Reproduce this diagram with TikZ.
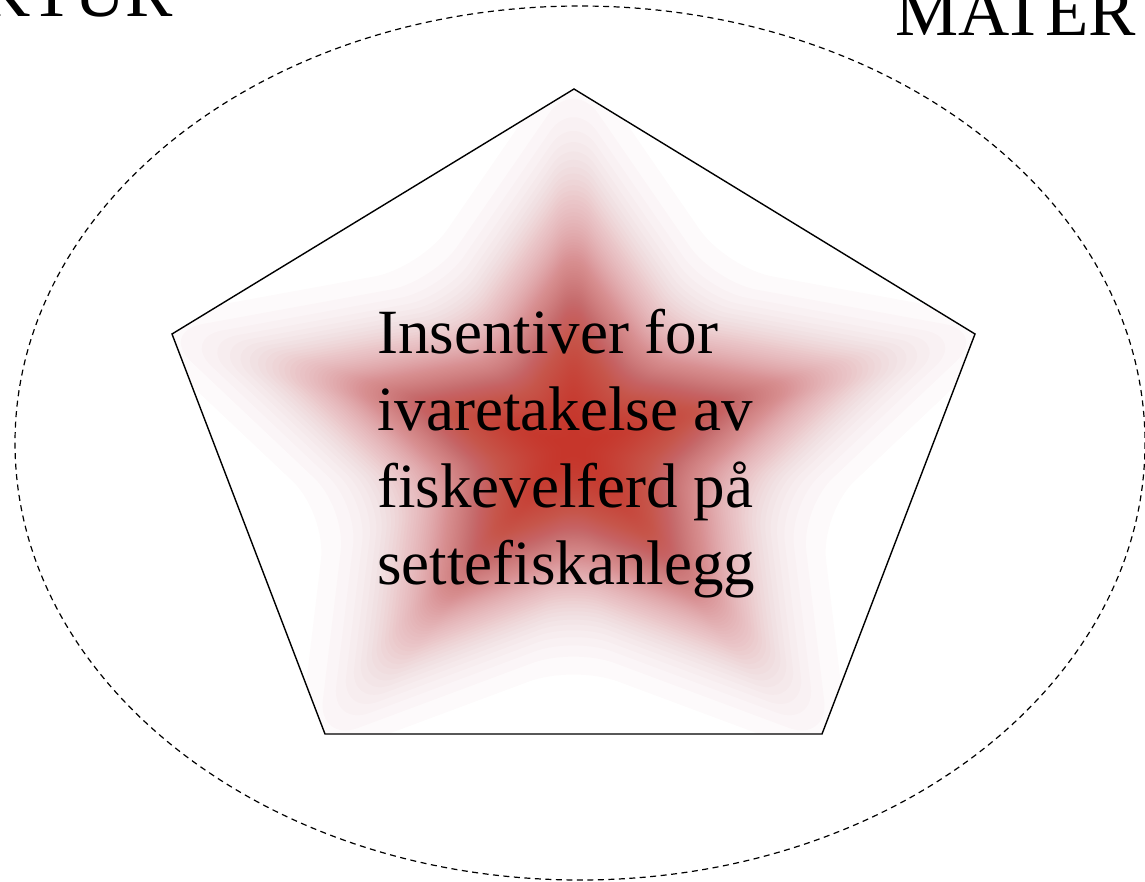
\documentclass[tikz,border=0pt]{standalone}
\usepackage{fontspec}
\setmainfont{Liberation Serif}
\definecolor{coreRed}{RGB}{205,48,8}
\definecolor{roseRed}{RGB}{190,45,60}
\tikzset{
  outline/.style={draw=black, line width=1.4pt, line join=miter},
  ring/.style={draw=black, line width=1.2pt, dash pattern=on 6pt off 4.5pt},
  glow/.style={draw=none, fill opacity=0.018},
  maintext/.style={font=\fontsize{63}{77}\selectfont, align=left, inner sep=0pt},
  sidetext/.style={font=\fontsize{71}{80}\selectfont, inner sep=0pt}
}
\begin{document}
\begin{tikzpicture}[x=1pt,y=-1pt]
\useasboundingbox (0,0) rectangle (1145,882);
\clip (0,0) rectangle (1145,882);
% dashed ring
\draw[ring] (580,443) ellipse [x radius=565, y radius=437];
% pentagon background
\path[fill=white] (574,89) -- (975,334) -- (822,734) -- (325,734) -- (172,334) -- cycle;
% soft star glow
\begin{scope}
  \clip (574,89) -- (975,334) -- (822,734) -- (325,734) -- (172,334) -- cycle;
  \foreach \i in {1,...,99} {
    \pgfmathsetmacro\r{220*sqrt(ln(100/\i))}
    \pgfmathsetmacro\rc{0.1*\r}
    \pgfmathtruncatemacro\p{\i}
    \fill[glow, fill=coreRed!\p!roseRed, rounded corners=\rc pt]
      ({573.5}, {445.5-0.845*\r})
      \foreach \k in {1,...,9} {
        -- ({573.5 + \r*(1-0.45*mod(\k,2))*cos(90+36*\k)}, {445.5 - 0.845*\r*(1-0.45*mod(\k,2))*sin(90+36*\k)})
      } -- cycle;
  }
\end{scope}
% pentagon outline
\draw[outline] (574,89) -- (975,334) -- (822,734) -- (325,734) -- (172,334) -- cycle;
% text
\node[maintext, anchor=north west] (txt) at (377,309) {Insentiver for\\ivaretakelse av\\fiskevelferd på\\settefiskanlegg};
\node[sidetext, anchor=base east] (left) at (173,17) {KTUR};
\node[sidetext, anchor=base west] (right) at (895,36) {MATER};
\end{tikzpicture}
\end{document}
